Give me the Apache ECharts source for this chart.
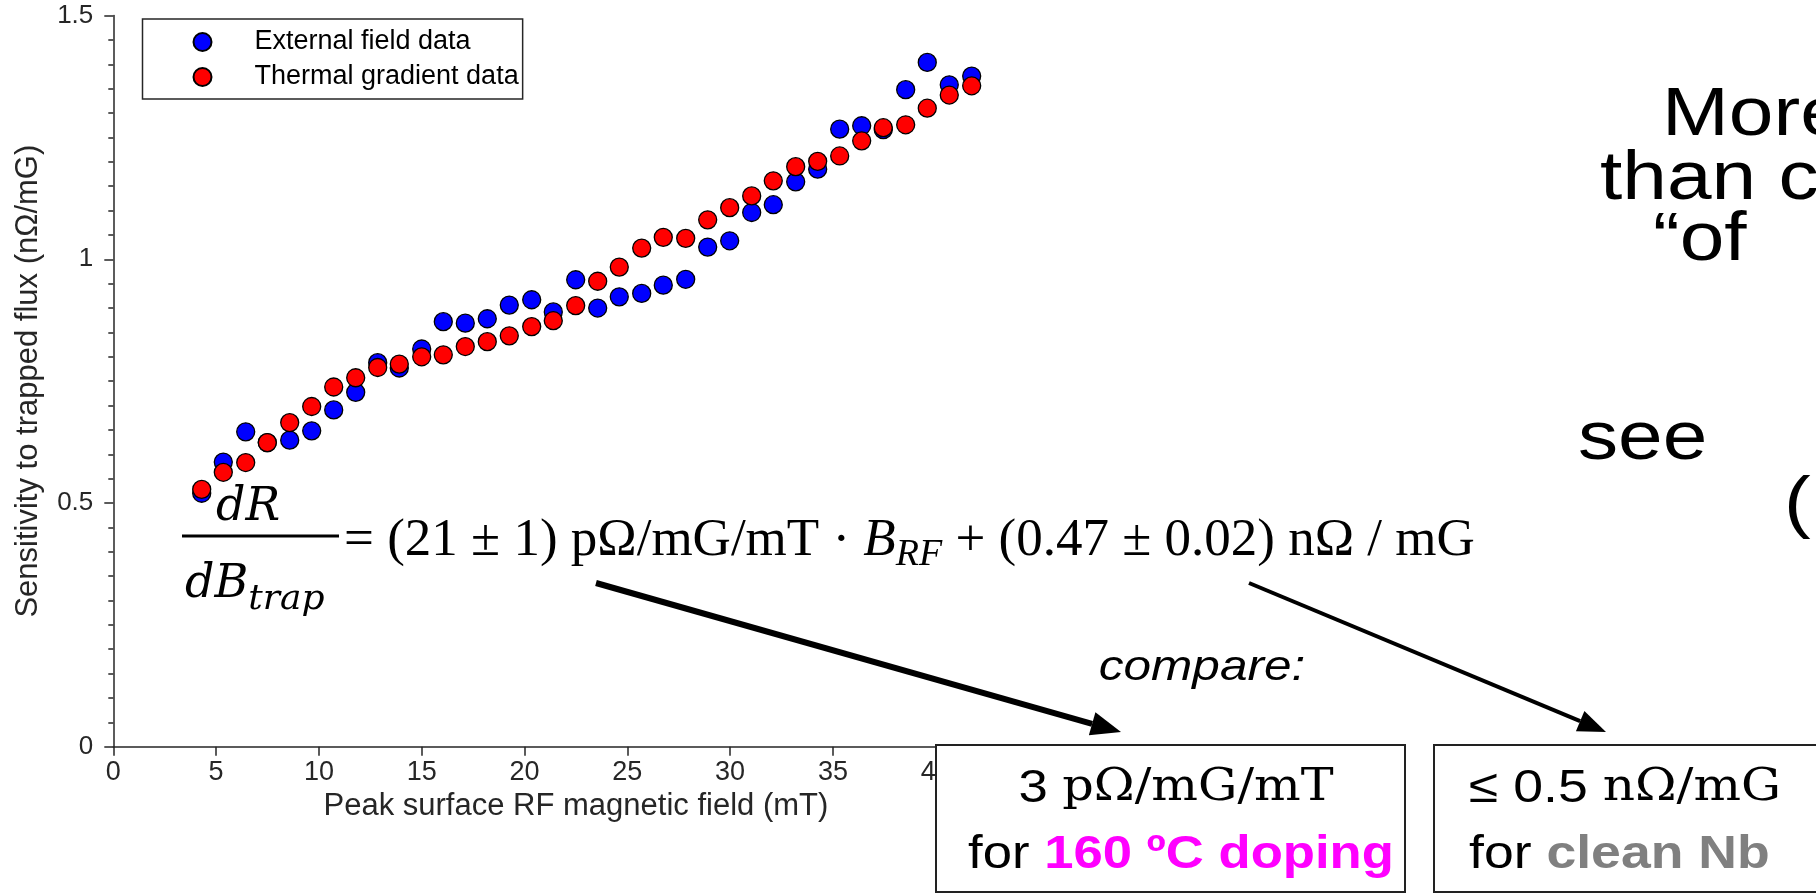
<!DOCTYPE html>
<html>
<head>
<meta charset="utf-8">
<script src="https://cdn.jsdelivr.net/npm/echarts@6/dist/echarts.min.js"></script>
<style>
  html, body { margin: 0; padding: 0; background: #fff; }
  #chart { width: 1816px; height: 894px; }
</style>
</head>
<body>
<div id="chart"></div>
<script>
// peak surface RF field (mT) of each measurement
var fieldMT = [4.30, 5.35, 6.44, 7.49, 8.58, 9.65, 10.72, 11.79, 12.86, 13.91, 15.00, 16.05,
  17.12, 18.19, 19.26, 20.35, 21.40, 22.49, 23.56, 24.61, 25.70, 26.75, 27.84, 28.91,
  29.98, 31.05, 32.10, 33.19, 34.26, 35.33, 36.40, 37.45, 38.54, 39.59, 40.66, 41.75];
// sensitivity (nOhm/mG)
var externalField = [0.520, 0.584, 0.646, 0.624, 0.629, 0.648, 0.691, 0.727, 0.788, 0.777, 0.816, 0.872,
  0.869, 0.878, 0.906, 0.917, 0.892, 0.958, 0.900, 0.923, 0.930, 0.947, 0.959, 1.025,
  1.038, 1.096, 1.112, 1.159, 1.185, 1.267, 1.274, 1.266, 1.348, 1.404, 1.358, 1.376];
var thermalGradient = [0.528, 0.563, 0.583, 0.624, 0.665, 0.698, 0.738, 0.757, 0.778, 0.785, 0.800, 0.804,
  0.821, 0.831, 0.843, 0.862, 0.874, 0.905, 0.955, 0.984, 1.023, 1.045, 1.043, 1.081,
  1.106, 1.130, 1.161, 1.190, 1.201, 1.212, 1.243, 1.270, 1.276, 1.310, 1.337, 1.356];
var seriesNames = ["External field data", "Thermal gradient data"];
var xTicks = [0, 5, 10, 15, 20, 25, 30, 35, 40, 45];
var yTicks = [0, 0.5, 1, 1.5];

var axisColor = "#262626";
var sans = "'Liberation Sans', Arial, sans-serif";
var serif = "'Liberation Serif', 'Times New Roman', serif";
var mathIt = "'DejaVu Serif', serif";

function pairs(xs, ys) {
  return xs.map(function (x, i) { return [x, ys[i]]; });
}

// text width helper for placing the equation pieces
var measureCtx = document.createElement("canvas").getContext("2d");
function textWidth(text, font) {
  measureCtx.font = font;
  return measureCtx.measureText(text).width;
}

function arrow(x1, y1, x2, y2, w, headLen, headW) {
  var a = Math.atan2(y2 - y1, x2 - x1);
  var bx = x2 - headLen * Math.cos(a), by = y2 - headLen * Math.sin(a);
  var nx = -Math.sin(a) * headW / 2, ny = Math.cos(a) * headW / 2;
  return [
    { type: "line", z: 50, shape: { x1: x1, y1: y1, x2: bx, y2: by },
      style: { stroke: "#000", lineWidth: w } },
    { type: "polygon", z: 50, shape: { points: [[x2, y2], [bx + nx, by + ny], [bx - nx, by - ny]] },
      style: { fill: "#000" } }
  ];
}

// slide text is a little wider than tall in the reference
function slideText(x, y, text, font, align) {
  return { type: "text", z: 50, x: x, y: y, scaleX: 1.18,
    style: { text: text, font: font, fill: "#000", align: align || "left", verticalAlign: "middle" } };
}

var chart = echarts.init(document.getElementById("chart"));

var eqFont = "53px " + serif;
var eqItFont = "italic 53px " + serif;
var subFont = "italic 38px " + serif;
var fracFont = "italic 46px " + mathIt;
var fracSub = "italic 36px " + mathIt;
var eqX = 344, eqY = 541;
var part1 = "= (21 ± 1) pΩ/mG/mT · ";
var part3 = " + (0.47 ± 0.02) nΩ / mG";
var bX = eqX + textWidth(part1, eqFont);
var rfX = bX + textWidth("B", eqItFont);
var p3X = rfX + textWidth("RF", subFont);
var dbW = textWidth("dB", fracFont);
var bigFont = "68px " + sans;
var boxSans = "47px " + sans;
var boxSerif = "44px 'DejaVu Serif', serif";

var graphics = [
  // fraction dR / dB_trap
  { type: "text", z: 50, x: 248, y: 508, style: { text: "dR", font: fracFont, fill: "#000", align: "center", verticalAlign: "middle" } },
  { type: "line", z: 50, shape: { x1: 182, y1: 536, x2: 339, y2: 536 }, style: { stroke: "#000", lineWidth: 3 } },
  { type: "text", z: 50, x: 185, y: 585, style: { text: "dB", font: fracFont, fill: "#000", verticalAlign: "middle" } },
  { type: "text", z: 50, x: 185 + dbW, y: 600, style: { text: "trap", font: fracSub, fill: "#000", verticalAlign: "middle" } },
  // right-hand side
  { type: "text", z: 50, x: eqX, y: eqY, style: { text: part1, font: eqFont, fill: "#000", verticalAlign: "middle" } },
  { type: "text", z: 50, x: bX, y: eqY, style: { text: "B", font: eqItFont, fill: "#000", verticalAlign: "middle" } },
  { type: "text", z: 50, x: rfX, y: eqY + 14, style: { text: "RF", font: subFont, fill: "#000", verticalAlign: "middle" } },
  { type: "text", z: 50, x: p3X, y: eqY, style: { text: part3, font: eqFont, fill: "#000", verticalAlign: "middle" } },
  // compare
  slideText(1202, 668, "compare:", "italic 42px " + sans, "center"),
  // box 1
  { type: "rect", z: 40, shape: { x: 936, y: 745, width: 469, height: 147 }, style: { fill: "#fff", stroke: "#222", lineWidth: 2 } },
  { type: "text", z: 50, x: 1176, y: 789, scaleX: 1.12, style: {
      text: "{a|3 }{b|pΩ/mG/mT}", align: "center", verticalAlign: "middle",
      rich: { a: { font: boxSans, fill: "#000" }, b: { font: boxSerif, fill: "#000" } } } },
  { type: "text", z: 50, x: 1181, y: 855, scaleX: 1.12, style: {
      text: "{a|for }{m|160 ºC doping}", align: "center", verticalAlign: "middle",
      rich: { a: { font: boxSans, fill: "#000" }, m: { font: "bold " + boxSans, fill: "#ff00ff" } } } },
  // box 2
  { type: "rect", z: 40, shape: { x: 1434, y: 745, width: 420, height: 147 }, style: { fill: "#fff", stroke: "#222", lineWidth: 2 } },
  { type: "text", z: 50, x: 1469, y: 789, scaleX: 1.14, style: {
      text: "{a|≤ 0.5 }{b|nΩ/mG}", verticalAlign: "middle",
      rich: { a: { font: boxSans, fill: "#000" }, b: { font: boxSerif, fill: "#000" } } } },
  { type: "text", z: 50, x: 1469, y: 855, scaleX: 1.14, style: {
      text: "{a|for }{g|clean Nb}", verticalAlign: "middle",
      rich: { a: { font: boxSans, fill: "#000" }, g: { font: "bold " + boxSans, fill: "#808080" } } } },
  // slide text cut by the right edge
  slideText(1662, 116, "More", bigFont),
  slideText(1600, 180, "than c", bigFont),
  slideText(1653, 241, "“of", bigFont),
  slideText(1578, 440, "see", bigFont),
  slideText(1784, 506, "(", bigFont)
];
graphics = graphics.concat(arrow(596, 583, 1121, 732, 6, 30, 24));
graphics = graphics.concat(arrow(1249, 583, 1606, 732, 4, 28, 22));

var option = {
  animation: false,
  backgroundColor: "#fff",
  grid: { left: 113.3, top: 15.6, width: 925.2, height: 731.1, containLabel: false },
  legend: {
    data: seriesNames,
    orient: "vertical",
    left: 142.5,
    top: 19,
    padding: [8, 4, 7, 50],
    itemWidth: 94,
    itemHeight: 18,
    itemGap: 5,
    icon: "circle",
    backgroundColor: "#fff",
    borderColor: axisColor,
    borderWidth: 1.5,
    textStyle: { fontFamily: sans, fontSize: 27, lineHeight: 30, color: "#000" }
  },
  xAxis: {
    type: "value",
    min: xTicks[0],
    max: xTicks[xTicks.length - 1],
    interval: 5,
    name: "Peak surface RF magnetic field (mT)",
    nameLocation: "middle",
    nameGap: 38,
    nameTextStyle: { fontFamily: sans, fontSize: 31, color: axisColor },
    axisLine: { show: true, lineStyle: { color: axisColor, width: 1.5 } },
    axisTick: { show: true, inside: false, length: 9, lineStyle: { color: axisColor, width: 1.5 } },
    axisLabel: { fontFamily: sans, fontSize: 27, color: axisColor, margin: 12 },
    splitLine: { show: false }
  },
  yAxis: {
    type: "value",
    min: yTicks[0],
    max: yTicks[yTicks.length - 1],
    interval: 0.5,
    name: "Sensitivity to trapped flux (nΩ/mG)",
    nameLocation: "middle",
    nameGap: 69,
    nameTextStyle: { fontFamily: sans, fontSize: 31, color: axisColor },
    axisLine: { show: true, lineStyle: { color: axisColor, width: 1.5 } },
    axisTick: { show: true, inside: false, length: 9, lineStyle: { color: axisColor, width: 1.5 } },
    minorTick: { show: true, splitNumber: 10, length: 5, lineStyle: { color: axisColor, width: 1.5 } },
    axisLabel: { fontFamily: sans, fontSize: 26, color: axisColor, margin: 20 },
    splitLine: { show: false },
    minorSplitLine: { show: false }
  },
  series: [
    {
      name: seriesNames[0],
      type: "scatter",
      symbol: "circle",
      symbolSize: 18,
      itemStyle: { color: "#0000ff", borderColor: "#000", borderWidth: 1.3, opacity: 1 },
      data: pairs(fieldMT, externalField)
    },
    {
      name: seriesNames[1],
      type: "scatter",
      symbol: "circle",
      symbolSize: 18,
      itemStyle: { color: "#ff0000", borderColor: "#000", borderWidth: 1.3, opacity: 1 },
      data: pairs(fieldMT, thermalGradient)
    }
  ],
  graphic: { elements: graphics }
};

chart.setOption(option);
</script>
</body>
</html>
